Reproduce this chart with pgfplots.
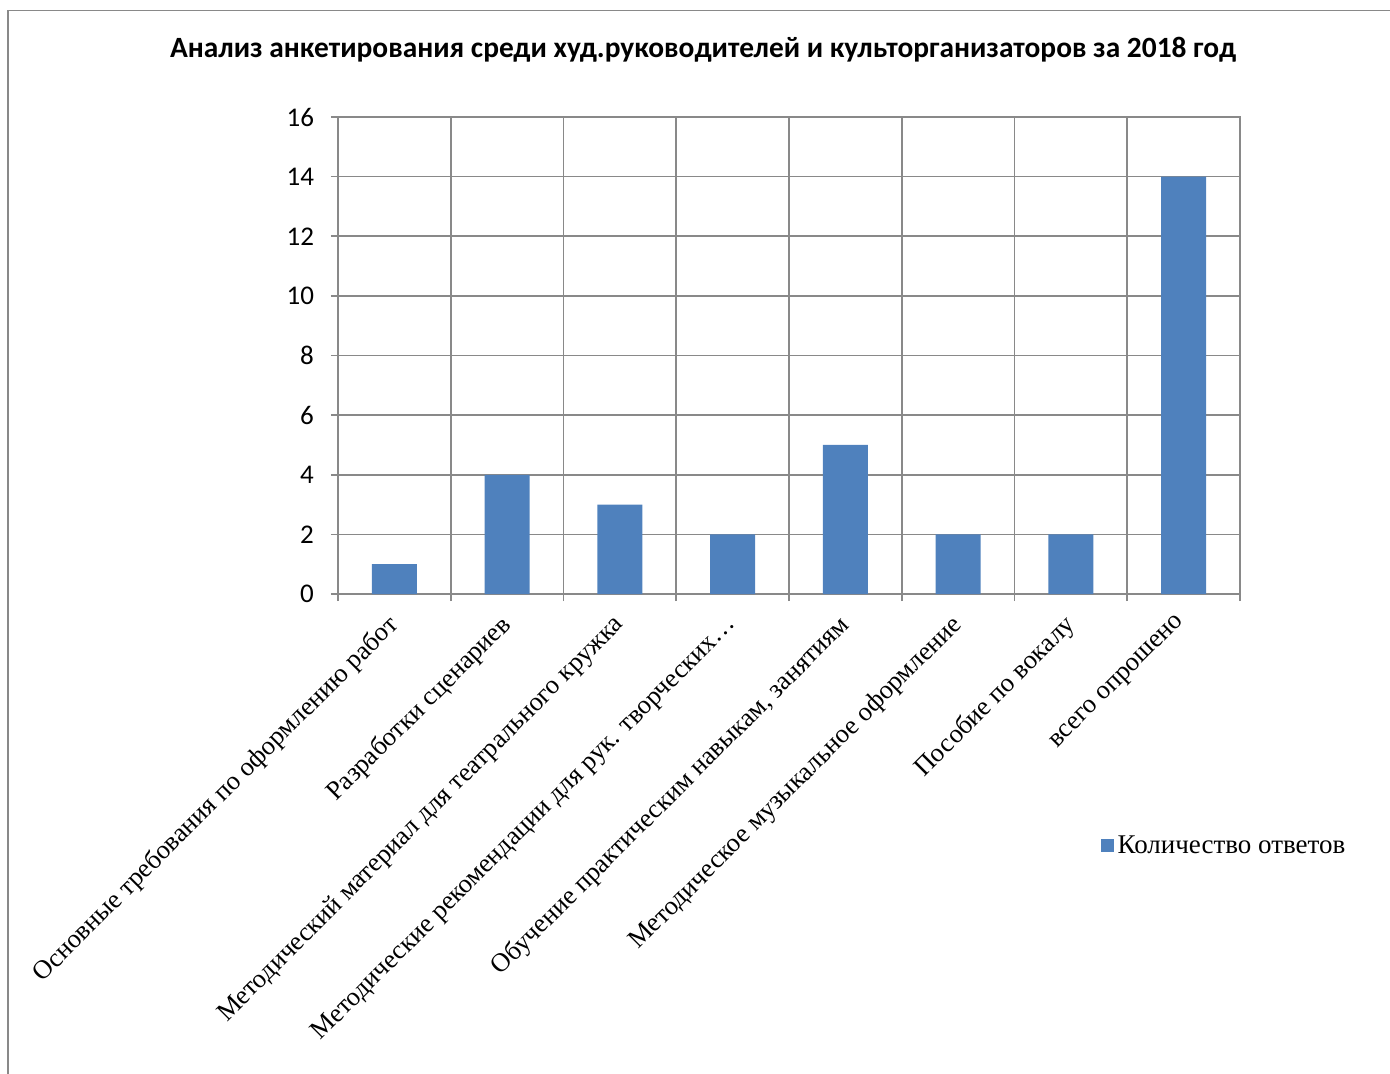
\documentclass[border=0pt]{standalone}
\usepackage{fontspec}
\setmainfont{Liberation Serif}
\newfontfamily\calibri{Carlito}
\usepackage{pgfplots}
\pgfplotsset{compat=1.18}
\definecolor{barblue}{HTML}{4F81BD}
\definecolor{gridgray}{HTML}{898989}
\begin{document}
\begin{tikzpicture}
\useasboundingbox (0pt,0pt) rectangle (695pt,-537pt);
% chart frame (left and top edges visible)
\draw[gridgray,line width=0.8pt] (4pt,-537pt) -- (4pt,-5.2pt) -- (695pt,-5.2pt);
\node[font=\calibri\bfseries\fontsize{14.7}{17}\selectfont] at (351.5pt,-25pt)
  {Анализ анкетирования среди худ.руководителей и культорганизаторов за 2018 год};
\begin{axis}[
  scale only axis,
  width=451pt, height=238.5pt,
  anchor=north west, at={(169pt,-58.5pt)},
  ybar, bar width=22.5pt,
  xmin=-0.5, xmax=7.5,
  ymin=0, ymax=16, ytick={0,2,...,16},
  xtick=data,
  minor xtick={-0.5,0.5,...,7.5},
  xmajorgrids=false, xminorgrids=true, ymajorgrids=true,
  grid style={gridgray,line width=0.8pt},
  minor grid style={gridgray,line width=0.8pt},
  axis line style={gridgray,line width=0.8pt},
  tick align=outside,
  major x tick style={draw=none},
  minor x tick style={gridgray,line width=0.8pt},
  y tick style={gridgray,line width=0.8pt},
  major tick length=3.5pt, minor tick length=3.5pt,
  xtick pos=bottom, ytick pos=left,
  /pgf/number format/assume math mode=true,
  yticklabel style={font=\calibri\fontsize{13.5}{15}\selectfont, xshift=-5pt},
  xticklabels={Основные требования по оформлению работ, Разработки сценариев,
    Методический материал для театрального кружка,
    Методические рекомендации для рук. творческих…,
    {Обучение практическим навыкам, занятиям}, Методическое музыкальное оформление,
    Пособие по вокалу, всего опрошено},
  xticklabel style={font=\fontsize{13.2}{15}\selectfont, rotate=45, anchor=north east, inner sep=0pt, xshift=-7pt, yshift=-1pt},
  legend style={draw=none, at={(0.845,-0.528)}, anchor=west,
    font=\fontsize{13.5}{15}\selectfont, inner sep=0pt,
    legend cell align=left},
  legend image code/.code={\fill[#1,draw=none] (0pt,-3.25pt) rectangle (6.5pt,3.25pt);},
]
\addplot[fill=barblue, draw=none] coordinates {(0,1) (1,4) (2,3) (3,2) (4,5) (5,2) (6,2) (7,14)};
\addlegendentry{Количество ответов}
\end{axis}
\end{tikzpicture}
\end{document}
